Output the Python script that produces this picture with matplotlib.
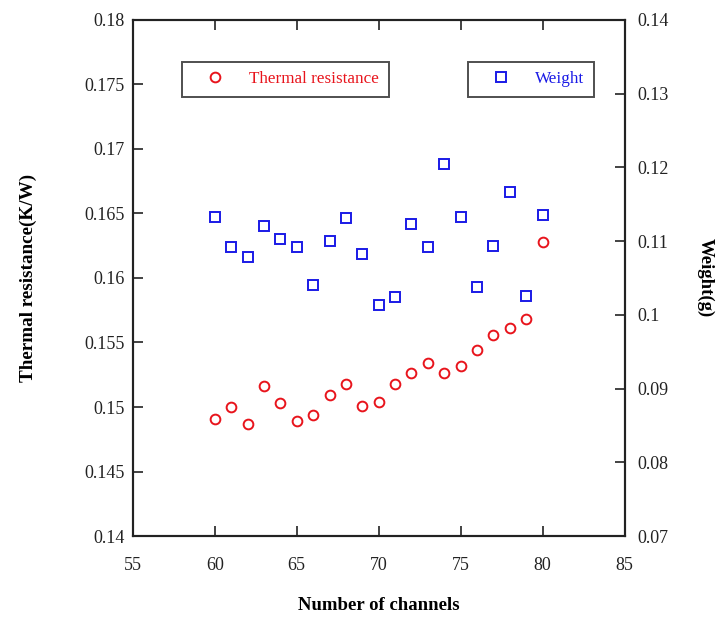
import numpy as np
import matplotlib.pyplot as plt

# Number of channels
channels = [60, 61, 62, 63, 64, 65, 66, 67, 68, 69,
            70, 71, 72, 73, 74, 75, 76, 77, 78, 79, 80]

# Thermal resistance (K/W), left axis
thermal_res = [0.1491, 0.1500, 0.1487, 0.1516, 0.1503, 0.1489, 0.1494,
               0.1509, 0.1518, 0.1501, 0.1504, 0.1518, 0.1526, 0.1534,
               0.1526, 0.1532, 0.1544, 0.1556, 0.1561, 0.1568, 0.1628]

# Weight (g), right axis
weight = [0.1133, 0.1092, 0.1079, 0.1121, 0.1103, 0.1092, 0.1041,
          0.1100, 0.1131, 0.1083, 0.1014, 0.1024, 0.1123, 0.1092,
          0.1205, 0.1133, 0.1038, 0.1094, 0.1166, 0.1026, 0.1135]

plt.rcParams['font.family'] = ['Liberation Serif', 'DejaVu Serif']

fig = plt.figure(figsize=(7.22, 6.24), dpi=100)
ax = fig.add_axes([0.184, 0.141, 0.681, 0.827])
ax2 = ax.twinx()

l1, = ax.plot(channels, thermal_res, 'o', mfc='none', mec='#e8141c',
              ms=7, mew=1.4, label='Thermal resistance')
l2, = ax2.plot(channels, weight, 's', mfc='none', mec='#1a1ae6',
               ms=7, mew=1.4, label='Weight')

ax.set_xlim(55, 85)
ax.set_ylim(0.14, 0.18)
ax2.set_ylim(0.07, 0.14)
ax.set_xticks(np.arange(55, 86, 5))
ax.set_yticks(np.arange(0.14, 0.1801, 0.005))
ax.set_yticklabels(['0.14', '0.145', '0.15', '0.155', '0.16', '0.165',
                    '0.17', '0.175', '0.18'])
ax2.set_yticks(np.arange(0.07, 0.1401, 0.01))
ax2.set_yticklabels(['0.07', '0.08', '0.09', '0.1', '0.11', '0.12',
                     '0.13', '0.14'])

ax.tick_params(axis='x', direction='in', length=7, width=1.2, top=True,
               pad=15, labelsize=13, colors='#222222')
ax.tick_params(axis='y', direction='in', length=7, width=1.2, right=False,
               pad=6, labelsize=13, colors='#222222')
ax2.tick_params(axis='y', direction='in', length=7, width=1.2, pad=9,
                labelsize=13, colors='#222222')

for a in (ax, ax2):
    for s in a.spines.values():
        s.set_linewidth(1.5)
        s.set_color('#222222')

ax.set_xlabel('Number of channels', fontsize=13.5, fontweight='bold',
              labelpad=17)
ax.set_ylabel('Thermal resistance(K/W)', fontsize=13.8, fontweight='bold',
              labelpad=34)
ax2.set_ylabel('Weight(g)', fontsize=13.5, fontweight='bold', rotation=270,
               labelpad=33)

leg_kw = dict(loc='upper left', frameon=True, fancybox=False,
              edgecolor='#222222', fontsize=12.3, handletextpad=0.6,
              borderpad=0.55, borderaxespad=0, handlelength=2.8)
leg1 = ax.legend(handles=[l1], bbox_to_anchor=(0.0996, 0.9186),
                 labelcolor='#e8141c', **leg_kw)
leg1.get_frame().set_linewidth(1.4)
ax.add_artist(leg1)
leg2 = ax.legend(handles=[l2], bbox_to_anchor=(0.681, 0.9186),
                 labelcolor='#1a1ae6', **leg_kw)
leg2.get_frame().set_linewidth(1.4)

fig.savefig('out.png', dpi=100)
